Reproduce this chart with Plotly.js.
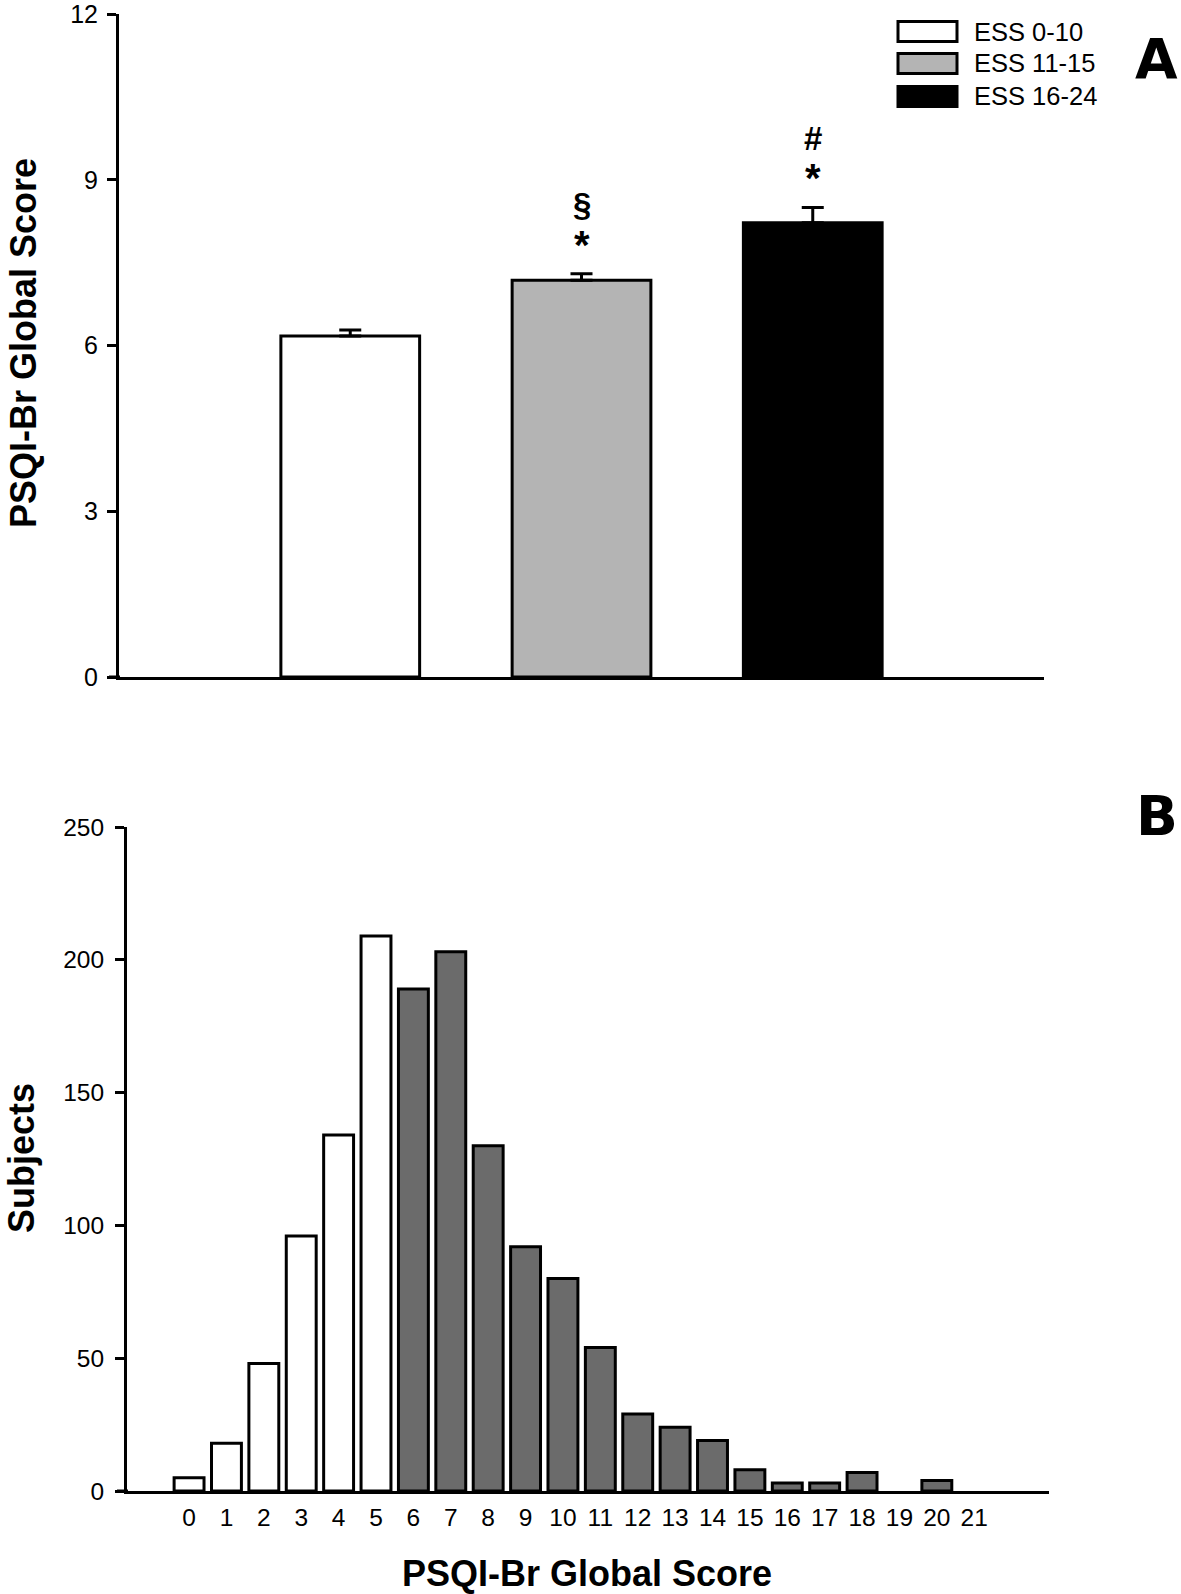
<!DOCTYPE html>
<html>
<head>
<meta charset="utf-8">
<script src="https://cdn.plot.ly/plotly-3.0.1.min.js"></script>
<style>
html,body{margin:0;padding:0;background:#fff;overflow:hidden;width:1181px;height:1594px;}
#chart{width:1181px;height:1594px;display:block;}
</style>
</head>
<body>
<div id="chart"></div>
<script>
// ---- Panel A data ----
const groups = ['ESS 0-10', 'ESS 11-15', 'ESS 16-24'];
const meanScore = [6.17, 7.18, 8.22];
const semScore = [0.11, 0.12, 0.28];
const groupColors = ['#ffffff', '#b4b4b4', '#000000'];
const sigLower = ['', '*', '*'];
const sigUpper = ['', '§', '#'];
const yTicksA = [0, 3, 6, 9, 12];

// ---- Panel B data ----
const scores = [0,1,2,3,4,5,6,7,8,9,10,11,12,13,14,15,16,17,18,19,20,21];
const subjects = [5, 18, 48, 96, 134, 209, 189, 203, 130, 92, 80, 54, 29, 24, 19, 8, 3, 3, 7, 0, 4, 0];
const yTicksB = [0, 50, 100, 150, 200, 250];

const W = 1181, H = 1594;
const px = x => x / W;
const py = y => 1 - y / H;

const FONT = 'Liberation Sans, Arial, sans-serif';

const traceA = {
  type: 'bar',
  x: groups.map((g, i) => i),
  y: meanScore,
  width: 0.6,
  marker: { color: groupColors, line: { color: '#000', width: 3 } },
  error_y: { type: 'data', array: semScore, arrayminus: semScore.map(() => 0), symmetric: false,
             color: '#000', thickness: 3, width: 11 },
  xaxis: 'x', yaxis: 'y',
  showlegend: false, hoverinfo: 'skip'
};

const traceB = {
  type: 'bar',
  x: scores,
  y: subjects,
  width: 0.8,
  marker: { color: scores.map(s => s <= 5 ? '#ffffff' : '#6b6b6b'),
            line: { color: '#000', width: subjects.map(v => v > 0 ? 3 : 0) } },
  xaxis: 'x2', yaxis: 'y2',
  showlegend: false, hoverinfo: 'skip'
};

const annotations = [];
// significance marks
groups.forEach((g, i) => {
  if (sigLower[i]) annotations.push({ xref: 'x', yref: 'y', x: i, y: meanScore[i] + semScore[i],
    text: '<b>' + sigLower[i] + '</b>', showarrow: false, xanchor: 'center', yanchor: 'middle', yshift: 29,
    font: { family: FONT, size: 40, color: '#000' } });
  if (sigUpper[i]) annotations.push({ xref: 'x', yref: 'y', x: i, y: meanScore[i] + semScore[i],
    text: '<b>' + sigUpper[i] + '</b>', showarrow: false, xanchor: 'center', yanchor: 'middle', yshift: 69,
    font: { family: FONT, size: 33, color: '#000' } });
});
// axis titles
annotations.push({ xref: 'paper', yref: 'paper', x: px(23), y: py(343), xanchor: 'center', yanchor: 'middle',
  text: '<b>PSQI-Br Global Score</b>', textangle: -90, showarrow: false,
  font: { family: FONT, size: 36, color: '#000' } });
annotations.push({ xref: 'paper', yref: 'paper', x: px(21), y: py(1158), xanchor: 'center', yanchor: 'middle',
  text: '<b>Subjects</b>', textangle: -90, showarrow: false,
  font: { family: FONT, size: 36, color: '#000' } });
annotations.push({ xref: 'paper', yref: 'paper', x: px(587), y: py(1573), xanchor: 'center', yanchor: 'middle',
  text: '<b>PSQI-Br Global Score</b>', showarrow: false,
  font: { family: FONT, size: 36, color: '#000' } });
// panel letters
annotations.push({ xref: 'paper', yref: 'paper', x: px(1156), y: py(59), xanchor: 'center', yanchor: 'middle',
  text: '<b>A</b>', showarrow: false, font: { family: 'DejaVu Sans, sans-serif', size: 55, color: '#000' } });
annotations.push({ xref: 'paper', yref: 'paper', x: px(1157), y: py(816), xanchor: 'center', yanchor: 'middle',
  text: '<b>B</b>', showarrow: false, font: { family: 'DejaVu Sans, sans-serif', size: 55, color: '#000' } });

// legend (drawn manually)
const legendY = [31.5, 63.5, 96.5];
const shapes = [];
groups.forEach((g, i) => {
  shapes.push({ type: 'rect', xref: 'paper', yref: 'paper', x0: px(898), x1: px(957),
    y0: py(legendY[i] - 10), y1: py(legendY[i] + 10), fillcolor: groupColors[i],
    line: { color: '#000', width: 3 } });
  annotations.push({ xref: 'paper', yref: 'paper', x: px(972), y: py(legendY[i]), xanchor: 'left',
    yanchor: 'middle', text: g, showarrow: false, font: { family: FONT, size: 25.5, color: '#000' } });
});
// x-axis lines extend left to the tick ends
shapes.push({ type: 'line', xref: 'paper', yref: 'paper', x0: px(109), x1: px(120), y0: py(677), y1: py(677),
  line: { color: '#000', width: 3 } });
shapes.push({ type: 'line', xref: 'paper', yref: 'paper', x0: px(117), x1: px(128), y0: py(1491), y1: py(1491),
  line: { color: '#000', width: 3 } });

const layout = {
  width: W, height: H,
  margin: { l: 0, r: 0, t: 0, b: 0 },
  paper_bgcolor: '#fff', plot_bgcolor: '#fff',
  font: { family: FONT, color: '#000' },
  showlegend: false,
  bargap: 0,
  xaxis: { domain: [px(119), px(1044)], range: [-1, 3], showticklabels: false, ticks: '',
           showline: true, linecolor: '#000', linewidth: 3, showgrid: false, zeroline: false, fixedrange: true },
  yaxis: { domain: [py(677), py(14)], range: [0, 12], tickvals: yTicksA, ticktext: yTicksA.map(String),
           ticks: 'outside', ticklen: 9, tickwidth: 3, tickcolor: '#000', ticklabeloverflow: 'allow',
           ticklabelstandoff: 4,
           showline: true, linecolor: '#000', linewidth: 3, showgrid: false, zeroline: false,
           tickfont: { family: FONT, size: 25, color: '#000' }, fixedrange: true },
  xaxis2: { domain: [px(127), px(1049)], range: [-1.66, 23], anchor: 'y2',
            tickvals: scores, ticktext: scores.map(String), ticks: '', ticklabeloverflow: 'allow',
            ticklabelstandoff: 3,
            showline: true, linecolor: '#000', linewidth: 3, showgrid: false, zeroline: false,
            tickfont: { family: FONT, size: 24.5, color: '#000' }, fixedrange: true },
  yaxis2: { domain: [py(1491), py(827)], range: [0, 250], anchor: 'x2',
            tickvals: yTicksB, ticktext: yTicksB.map(String), ticklabeloverflow: 'allow',
            ticks: 'outside', ticklen: 9, tickwidth: 3, tickcolor: '#000', ticklabelstandoff: 6,
            showline: true, linecolor: '#000', linewidth: 3, showgrid: false, zeroline: false,
            tickfont: { family: FONT, size: 24.5, color: '#000' }, fixedrange: true },
  annotations: annotations,
  shapes: shapes
};

Plotly.newPlot('chart', [traceA, traceB], layout, { displayModeBar: false, staticPlot: true });
</script>
</body>
</html>
